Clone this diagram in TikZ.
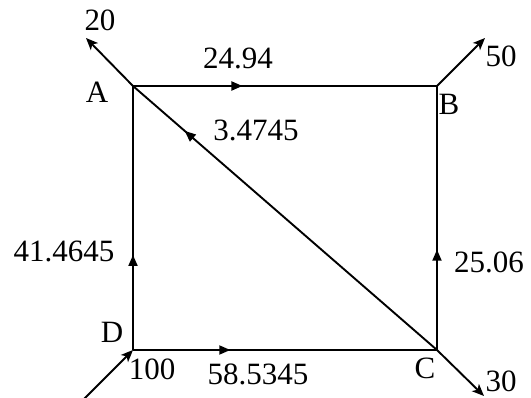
\documentclass[tikz,border=0pt]{standalone}
\usepackage{fontspec}
\setmainfont{Liberation Serif}
\usetikzlibrary{arrows.meta,decorations.markings}
\tikzset{
  edge/.style={line width=1.9pt},
  lbl/.style={inner sep=0pt, anchor=base, font=\fontsize{31}{36}\selectfont},
  endarrow/.style={edge, -{Stealth[length=12pt,width=10pt,inset=3pt]}},
  midarrow/.style={edge, postaction={decorate}, decoration={markings,
      mark=at position #1 with {\arrow{Triangle[length=11pt,width=9pt]}}}}
}
\begin{document}
\begin{tikzpicture}[x=1pt,y=-1pt]
\useasboundingbox (0,0) rectangle (531,398);
\clip (0,0) rectangle (531,398);
% corners
\coordinate (A) at (133,86);
\coordinate (B) at (437,86);
\coordinate (C) at (437,350);
\coordinate (D) at (133,350);
% free ends
\coordinate (tA) at (86,38);
\coordinate (tB) at (485,38);
\coordinate (tC) at (484,396);
\coordinate (sD) at (84,399);
% edges
\draw[midarrow=0.36] (A) -- (B);
\draw[midarrow=0.32] (D) -- (C);
\draw[midarrow=0.36] (D) -- (A);
\draw[midarrow=0.38] (C) -- (B);
\draw[midarrow=0.83] (C) -- (A);
\draw[endarrow] (A) -- (tA);
\draw[endarrow] (B) -- (tB);
\draw[endarrow] (C) -- (tC);
\draw[endarrow] (sD) -- (D);
% labels
\node[lbl] (l20) at (100,31) {20};
\node[lbl] (lA) at (97,103) {A};
\node[lbl] (l2494) at (238,69) {24.94};
\node[lbl] (l50) at (501,67) {50};
\node[lbl] (lB) at (449,115) {B};
\node[lbl] (l34745) at (256,141) {3.4745};
\node[lbl] (l414645) at (64,262) {41.4645};
\node[lbl] (l2506) at (489,273) {25.06};
\node[lbl] (lD) at (112,343) {D};
\node[lbl] (l100) at (152,380) {100};
\node[lbl] (l585345) at (258,385) {58.5345};
\node[lbl] (lC) at (425,379) {C};
\node[lbl] (l30) at (501,392) {30};
\end{tikzpicture}
\end{document}
